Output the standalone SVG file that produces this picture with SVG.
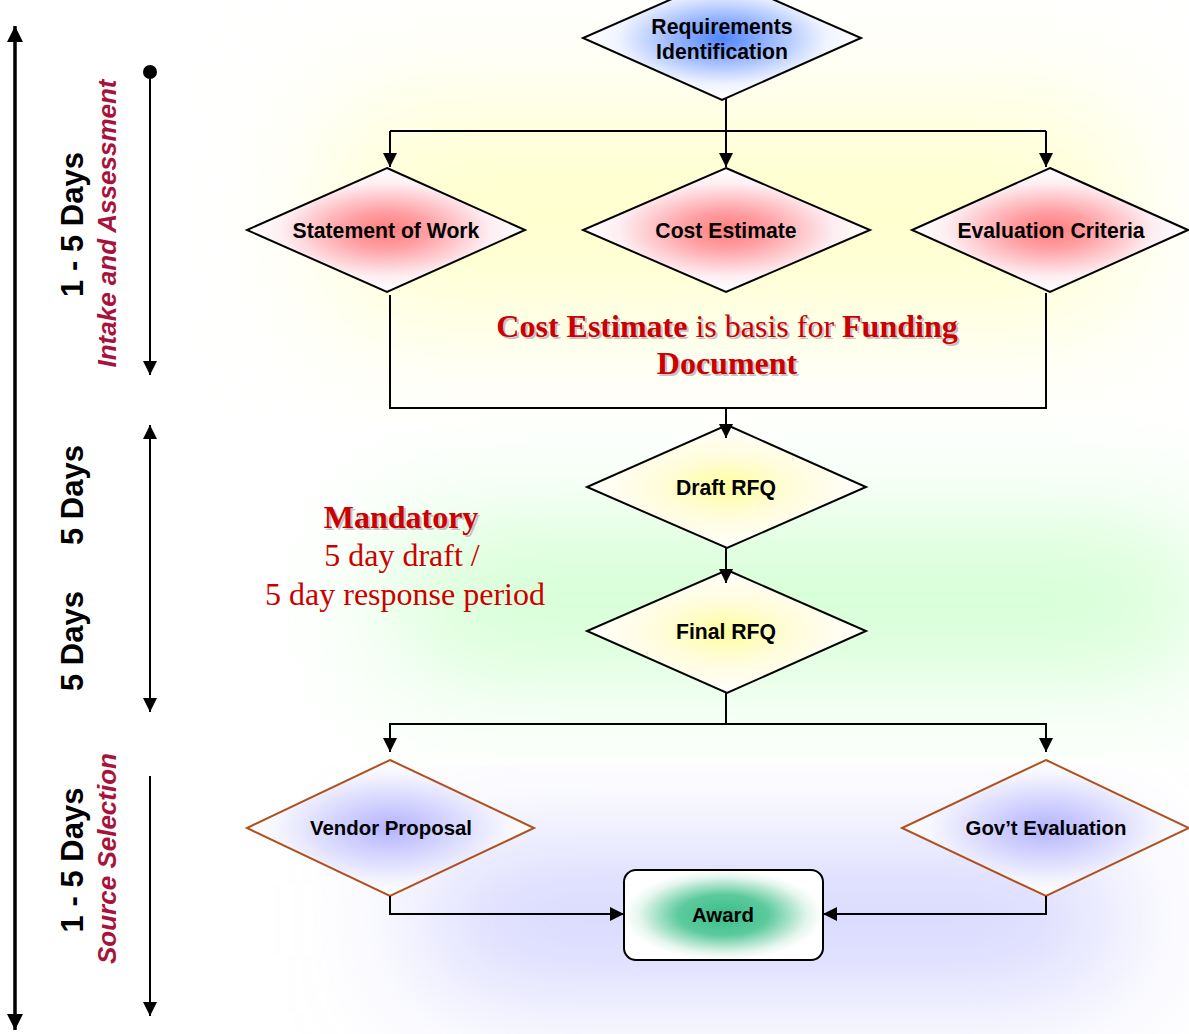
<svg xmlns="http://www.w3.org/2000/svg" width="1189" height="1034" viewBox="0 0 1189 1034">
  <style>
    .node { stroke: #000; stroke-width: 2; }
    .node-br { stroke: #b0501e; stroke-width: 2; }
    .lbl { font-family: "Liberation Sans", Arial, sans-serif; font-weight: bold; font-size: 21.2px; fill: #000; text-anchor: middle; }
    .lbl-sm { font-family: "Liberation Sans", Arial, sans-serif; font-weight: bold; font-size: 20.4px; fill: #000; text-anchor: middle; }
    .wire { fill: none; stroke: #000; stroke-width: 2; }
    .axis { fill: none; stroke: #000; stroke-width: 3.5; }
    .bar { fill: none; stroke: #000; stroke-width: 2; }
    .days { font-family: "Liberation Sans", Arial, sans-serif; font-weight: bold; font-size: 31px; fill: #000; text-anchor: middle; }
    .phase { font-family: "Liberation Sans", Arial, sans-serif; font-weight: bold; font-style: italic; font-size: 26px; fill: #a8133c; text-anchor: middle; }
    .note { font-family: "Liberation Serif", "Times New Roman", serif; font-size: 32px; fill: #cc0000; text-anchor: middle; }
    .note-sh { font-family: "Liberation Serif", "Times New Roman", serif; font-size: 32px; fill: #c4c4c4; text-anchor: middle; }
  </style>
  <defs>
    <marker id="tip" viewBox="0 0 10 10" refX="10" refY="5" markerWidth="14" markerHeight="14" markerUnits="userSpaceOnUse" orient="auto-start-reverse">
      <path d="M0,0 L10,5 L0,10 z" fill="#000"/>
    </marker>
    <marker id="tipBig" viewBox="0 0 10 10" refX="10" refY="5" markerWidth="16" markerHeight="16" markerUnits="userSpaceOnUse" orient="auto-start-reverse">
      <path d="M0,0 L10,5 L0,10 z" fill="#000"/>
    </marker>
    <filter id="soft" filterUnits="userSpaceOnUse" x="-200" y="-200" width="1600" height="1500">
      <feGaussianBlur stdDeviation="65"/>
    </filter>
    <clipPath id="bandTop"><rect x="0" y="0" width="1189" height="425"/></clipPath>
    <clipPath id="bandMid"><rect x="0" y="425" width="1189" height="340"/></clipPath>
    <clipPath id="bandLow"><rect x="0" y="765" width="1189" height="269"/></clipPath>
    <radialGradient id="gBlue" cx="0.5" cy="0.5" r="0.5">
      <stop offset="0" stop-color="#4f86ff"/>
      <stop offset="0.3" stop-color="#8fb0ff"/>
      <stop offset="0.75" stop-color="#f0f4ff"/>
      <stop offset="1" stop-color="#ffffff"/>
    </radialGradient>
    <radialGradient id="gRed" cx="0.5" cy="0.5" r="0.5">
      <stop offset="0" stop-color="#ff7c7c"/>
      <stop offset="0.3" stop-color="#ffa0a4"/>
      <stop offset="0.75" stop-color="#fdeef2"/>
      <stop offset="1" stop-color="#ffffff"/>
    </radialGradient>
    <radialGradient id="gYellow" cx="0.5" cy="0.5" r="0.5">
      <stop offset="0" stop-color="#ffff9c"/>
      <stop offset="0.45" stop-color="#fffcd8"/>
      <stop offset="1" stop-color="#ffffff"/>
    </radialGradient>
    <radialGradient id="gViolet" cx="0.5" cy="0.5" r="0.5">
      <stop offset="0" stop-color="#b4b4ff"/>
      <stop offset="0.35" stop-color="#d0d0ff"/>
      <stop offset="0.8" stop-color="#f6f6ff"/>
      <stop offset="1" stop-color="#ffffff"/>
    </radialGradient>
    <radialGradient id="gGreen" cx="0.5" cy="0.5" r="0.5">
      <stop offset="0" stop-color="#38be88"/>
      <stop offset="0.45" stop-color="#5cca9c"/>
      <stop offset="0.85" stop-color="#e6f6ee"/>
      <stop offset="1" stop-color="#ffffff"/>
    </radialGradient>
  </defs>

  <!-- page -->
  <rect width="1189" height="1034" fill="#ffffff"/>

  <!-- phase background glows -->
  <g id="backdrop">
    <g clip-path="url(#bandTop)">
      <rect x="340" y="110" width="780" height="210" fill="#ffffcc" filter="url(#soft)"/>
    </g>
    <g clip-path="url(#bandMid)">
      <rect x="400" y="540" width="800" height="120" fill="#c6ffc6" filter="url(#soft)"/>
    </g>
    <g clip-path="url(#bandLow)">
      <rect x="430" y="870" width="680" height="100" fill="#c2c2ff" filter="url(#soft)"/>
    </g>
  </g>

  <!-- timeline scales -->
  <g id="timeline">
    <path class="axis" d="M15,26 V1030" marker-start="url(#tipBig)" marker-end="url(#tipBig)"/>
    <circle cx="150" cy="72" r="7" fill="#000"/>
    <path class="bar" d="M150,72 V375" marker-end="url(#tip)"/>
    <path class="bar" d="M150,425 V712" marker-start="url(#tip)" marker-end="url(#tip)"/>
    <path class="bar" d="M150,776 V1016" marker-end="url(#tip)"/>
    <text class="days" transform="translate(83,224.5) rotate(-90)">1 - 5 Days</text>
    <text class="phase" transform="translate(116,223.5) rotate(-90)">Intake and Assessment</text>
    <text class="days" transform="translate(83,495) rotate(-90)">5 Days</text>
    <text class="days" transform="translate(83,641) rotate(-90)">5 Days</text>
    <text class="days" transform="translate(83,860) rotate(-90)">1 - 5 Days</text>
    <text class="phase" transform="translate(116,858.5) rotate(-90)">Source Selection</text>
  </g>

  <!-- nodes -->
  <g id="requirements">
    <polygon class="node" points="722,-23 861,38 722,100 583,38" fill="url(#gBlue)"/>
    <text class="lbl" x="722" y="34">Requirements</text>
    <text class="lbl" x="722" y="59">Identification</text>
  </g>
  <g id="statement-of-work">
    <polygon class="node" points="387,168 525,230 387,292 247,230" fill="url(#gRed)"/>
    <text class="lbl" x="386" y="237.5">Statement of Work</text>
  </g>
  <g id="cost-estimate">
    <polygon class="node" points="726,168 870,230 726,292 583,230" fill="url(#gRed)"/>
    <text class="lbl" x="726" y="238">Cost Estimate</text>
  </g>
  <g id="evaluation-criteria">
    <polygon class="node" points="1050,168 1188,230 1050,292 912,230" fill="url(#gRed)"/>
    <text class="lbl" x="1051" y="237.5">Evaluation Criteria</text>
  </g>
  <g id="draft-rfq">
    <polygon class="node" points="727,425 866,487 727,548 587,487" fill="url(#gYellow)"/>
    <text class="lbl" x="726" y="495">Draft RFQ</text>
  </g>
  <g id="final-rfq">
    <polygon class="node" points="727,570 866,631 727,693 587,631" fill="url(#gYellow)"/>
    <text class="lbl" x="726" y="639">Final RFQ</text>
  </g>
  <g id="vendor-proposal">
    <polygon class="node-br" points="390,760 534,828 390,896 247,828" fill="url(#gViolet)"/>
    <text class="lbl-sm" x="391" y="835">Vendor Proposal</text>
  </g>
  <g id="govt-evaluation">
    <polygon class="node-br" points="1046,760 1189,828 1046,896 902,828" fill="url(#gViolet)"/>
    <text class="lbl-sm" x="1046" y="835">Gov’t Evaluation</text>
  </g>
  <g id="award">
    <rect class="node" x="624" y="870" width="199" height="90" rx="12" fill="url(#gGreen)"/>
    <text class="lbl-sm" x="723" y="922">Award</text>
  </g>

  <!-- connectors -->
  <g id="connectors">
    <path class="wire" d="M726,99 V167" marker-end="url(#tip)"/>
    <path class="wire" d="M390,131 H1046"/>
    <path class="wire" d="M390,131 V167" marker-end="url(#tip)"/>
    <path class="wire" d="M1046,131 V167" marker-end="url(#tip)"/>
    <path class="wire" d="M390,295 V408 H1046 V293"/>
    <path class="wire" d="M726,408 V438" marker-end="url(#tip)"/>
    <path class="wire" d="M726,548 V583" marker-end="url(#tip)"/>
    <path class="wire" d="M726,693 V724"/>
    <path class="wire" d="M390,752 V724 H1046 V752" marker-start="url(#tip)" marker-end="url(#tip)"/>
    <path class="wire" d="M390,896 V914 H624" marker-end="url(#tip)"/>
    <path class="wire" d="M1046,896 V914 H823" marker-end="url(#tip)"/>
  </g>

  <!-- annotations -->
  <g id="funding-note">
    <text class="note-sh" x="729" y="339"><tspan font-weight="bold">Cost Estimate</tspan> is basis for <tspan font-weight="bold">Funding</tspan></text>
    <text class="note-sh" x="729" y="376" font-weight="bold">Document</text>
    <text class="note" x="727" y="337"><tspan font-weight="bold">Cost Estimate</tspan> is basis for <tspan font-weight="bold">Funding</tspan></text>
    <text class="note" x="727" y="374" font-weight="bold">Document</text>
  </g>
  <g id="mandatory-note">
    <text class="note-sh" x="403" y="530" font-weight="bold">Mandatory</text>
    <text class="note" x="401" y="528" font-weight="bold">Mandatory</text>
    <text class="note" x="402" y="566">5 day draft /</text>
    <text class="note" x="405" y="605">5 day response period</text>
  </g>
</svg>
